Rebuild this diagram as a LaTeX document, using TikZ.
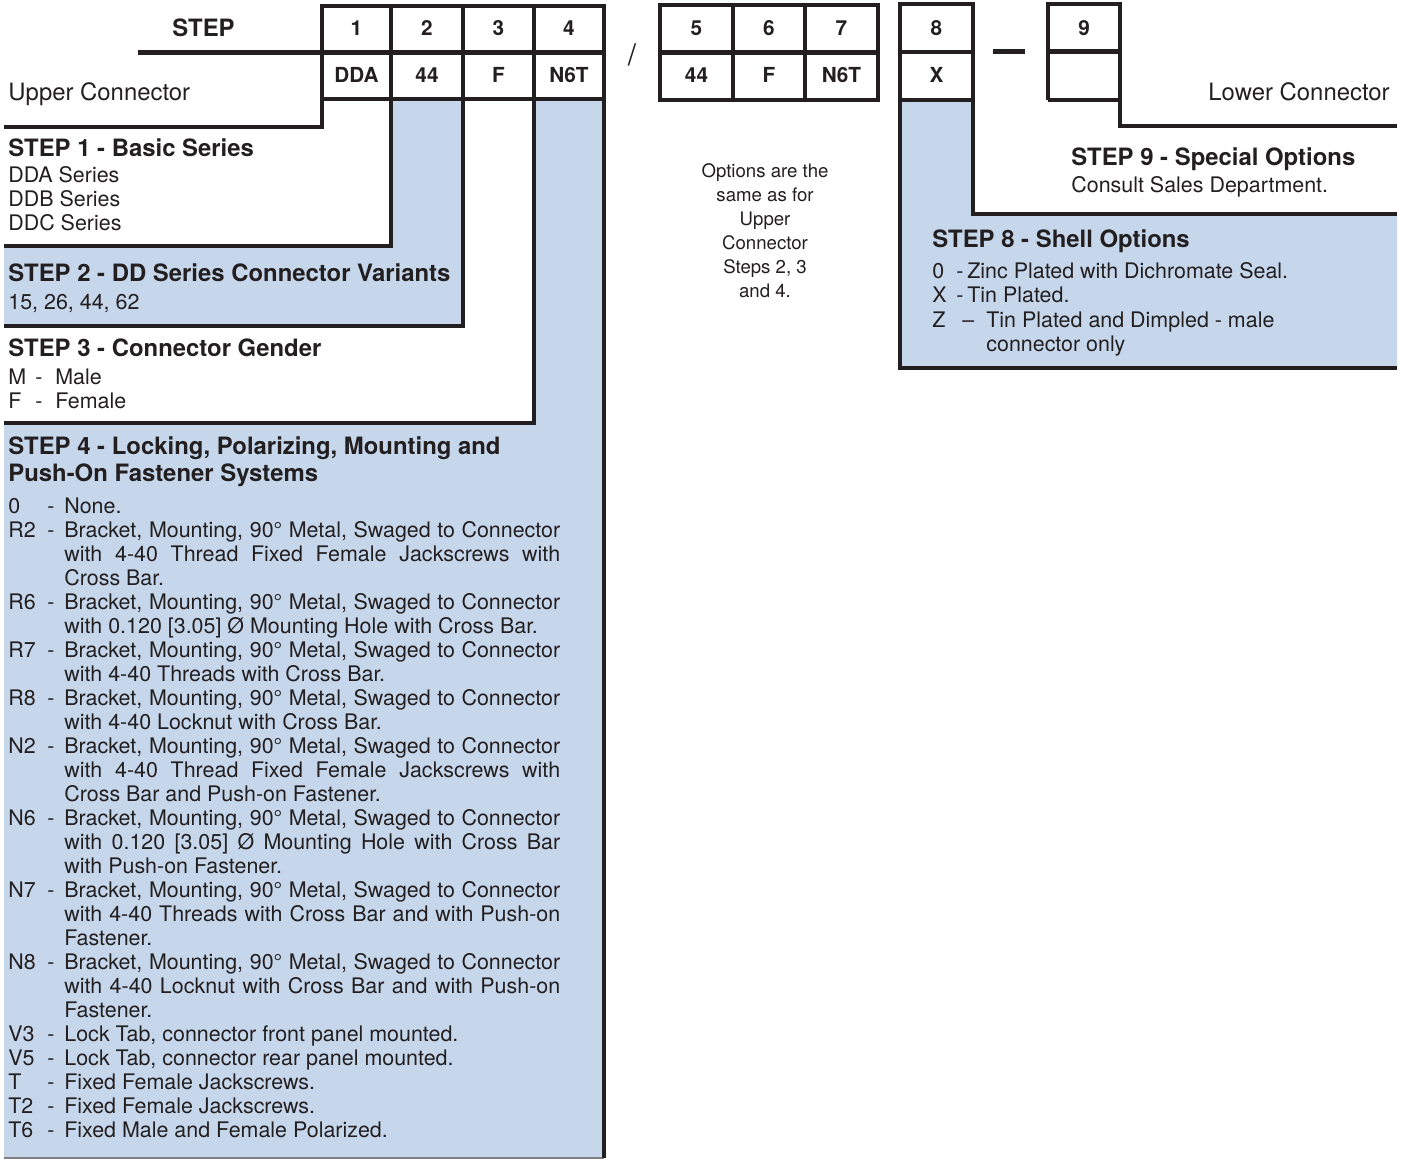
\documentclass[tikz,border=0pt]{standalone}
\usepackage{fontspec}
\setmainfont{TeX Gyre Heros}
\definecolor{ink}{RGB}{35,31,32}
\definecolor{paleblue}{RGB}{198,215,236}
\newcommand{\jline}[1]{\makebox[9.92cm][s]{#1}}
\tikzset{
  rule/.style={ink,line width=2.7pt,line join=miter},
  big/.style={anchor=west,inner sep=0pt,text=ink,font=\fontsize{13.6}{16}\selectfont,text height=9.8pt,text depth=0pt},
  title/.style={big,font=\fontsize{13.6}{16}\selectfont\bfseries},
  body/.style={anchor=west,inner sep=0pt,text=ink,font=\fontsize{12.2}{14}\selectfont,text height=8.8pt,text depth=0pt},
  cell/.style={anchor=center,inner sep=0pt,text=ink,font=\fontsize{11.8}{14}\selectfont\bfseries,text height=8.5pt,text depth=0pt},
  small/.style={anchor=center,inner sep=0pt,text=ink,font=\fontsize{10.6}{13}\selectfont,text height=7.6pt,text depth=0pt}
}

\begin{document}
\begin{tikzpicture}[x=0.02cm,y=-0.02cm]
    \useasboundingbox (0,0) rectangle (1406,1159);
    \fill[paleblue] (4,246) -- (391,246) -- (391,99) -- (463,99) -- (463,326) -- (4,326) -- cycle;
    \fill[paleblue] (4,423) -- (534,423) -- (534,99) -- (604,99) -- (604,1158) -- (4,1158) -- cycle;
    \fill[paleblue] (900,100) -- (973,100) -- (973,214) -- (1397,214) -- (1397,368) -- (900,368) -- cycle;
    \draw[gray,line width=0.6pt] (4,1158) -- (604,1158);

    \draw[rule] (4,127) -- (322,127) -- (322,6) -- (604,6) -- (604,1158);
    \draw[rule] (138,52.5) -- (604,52.5);
    \draw[rule] (322,99) -- (604,99);
    \draw[rule] (4,246) -- (391,246) -- (391,6);
    \draw[rule] (4,326) -- (463,326) -- (463,6);
    \draw[rule] (4,423) -- (534,423) -- (534,6);

    \draw[rule] (660,5) rectangle (878,100);
    \draw[rule] (660,52.5) -- (878,52.5);
    \foreach \x in {733,805} \draw[rule] (\x,5) -- (\x,100);
    \draw[rule] (1397,368) -- (900,368) -- (900,4) -- (973,4) -- (973,214) -- (1397,214);
    \draw[rule] (900,52) -- (973,52);
    \draw[rule] (900,100) -- (973,100);
    \draw[rule] (993,51.5) -- (1025,51.5);
    \draw[rule] (1048,100) -- (1048,4) -- (1120,4) -- (1120,126) -- (1397,126);
    \draw[rule] (1048,51.5) -- (1120,51.5);
    \draw[rule] (1048,100) -- (1120,100);

    \node[title,anchor=center] (stephead) at (203.5,28) {STEP};
    \node[big] (upper) at (8,92) {Upper Connector};
    \node[big,anchor=east] (lower) at (1390,92) {Lower Connector};
    \node[big,anchor=center,font=\fontsize{17}{20}\selectfont,text height=12pt] (slash) at (632,55) {/};
    \foreach \n/\x in {1/356.5,2/427,3/498.5,4/569,5/696.5,6/769,7/841.5,8/936.5,9/1084}
      \node[cell] (num\n) at (\x,28) {\n};
    \foreach \n/\x/\t in {1/356.5/DDA,2/427/44,3/498.5/F,4/569/N6T,5/696.5/44,6/769/F,7/841.5/N6T,8/936.5/X}
      \node[cell] (code\n) at (\x,75) {\t};

    \node[title] (step1) at (8,148) {STEP 1 - Basic Series};
    \foreach \y/\t in {175/DDA,199/DDB,223/DDC}
      \node[body] (ser\t) at (8,\y) {\t\ Series};
    \node[title] (step2) at (8,273) {STEP 2 - DD Series Connector Variants};
    \node[body] (variants) at (8,302) {15, 26, 44, 62};
    \node[title] (step3) at (8,348) {STEP 3 - Connector Gender};
    \foreach \y/\k/\t in {377/M/Male,401/F/Female} {
      \node[body] (gen\k) at (8,\y) {\k};
      \node[body] (gdash\k) at (35,\y) {-};
      \node[body] (gtxt\k) at (55,\y) {\t};
    }

    \node[title] (step4) at (8,446) {STEP 4 - Locking, Polarizing, Mounting and};
    \node[title] (step4b) at (8,473) {Push-On Fastener Systems};
    \foreach \k/\y in {0/506,R2/530,R6/602,R7/650,R8/698,N2/746,N6/818,N7/890,N8/962,V3/1034,V5/1058,T/1082,T2/1106,T6/1130} {
      \node[body] (opt\k) at (8,\y) {\k};
      \node[body] (odash\k) at (47,\y) {-};
    }
    \foreach \y in {530,602,650,698,746,818,890,962}
      \node[body] (brk\y) at (64,\y) {\jline{Bracket, Mounting, 90° Metal, Swaged to Connector}};
    \foreach \y/\t in {554/with 4-40 Thread Fixed Female Jackscrews with,
      770/with 4-40 Thread Fixed Female Jackscrews with,
      842/with 0.120 [3.05] Ø Mounting Hole with Cross Bar,
      914/with 4-40 Threads with Cross Bar and with Push-on,
      986/with 4-40 Locknut with Cross Bar and with Push-on}
      \node[body] (full\y) at (64,\y) {\jline{\t}};
    \foreach \y/\t in {506/None., 578/Cross Bar.,
      626/with 0.120 [3.05] Ø Mounting Hole with Cross Bar.,
      674/with 4-40 Threads with Cross Bar., 722/with 4-40 Locknut with Cross Bar.,
      794/Cross Bar and Push-on Fastener., 866/with Push-on Fastener.,
      938/Fastener., 1010/Fastener.,
      1034/{Lock Tab, connector front panel mounted.},
      1058/{Lock Tab, connector rear panel mounted.},
      1082/Fixed Female Jackscrews., 1106/Fixed Female Jackscrews.,
      1130/Fixed Male and Female Polarized.}
      \node[body] (last\y) at (64,\y) {\t};

    \foreach \y/\t in {171/Options are the,195/same as for,219/Upper,243/Connector,267/{Steps 2, 3},291/and 4.}
      \node[small] (same\y) at (765,\y) {\t};

    \node[title] (step9) at (1071,157) {STEP 9 - Special Options};
    \node[body] (consult) at (1071,185) {Consult Sales Department.};
    \node[title] (step8) at (932,239) {STEP 8 - Shell Options};
    \foreach \y/\k/\t in {271/0/Zinc Plated with Dichromate Seal.,295/X/Tin Plated.} {
      \node[body] (sh\k) at (932,\y) {\k};
      \node[body] (shdash\k) at (956,\y) {-};
      \node[body] (shtxt\k) at (967,\y) {\t};
    }
    \node[body] (shZ) at (932,320) {Z};
    \node[body] (shdashZ) at (962,320) {–};
    \node[body] (shtxtZ) at (986,320) {Tin Plated and Dimpled - male};
    \node[body] (shtxtZb) at (986,344) {connector only};
\end{tikzpicture}
\end{document}
